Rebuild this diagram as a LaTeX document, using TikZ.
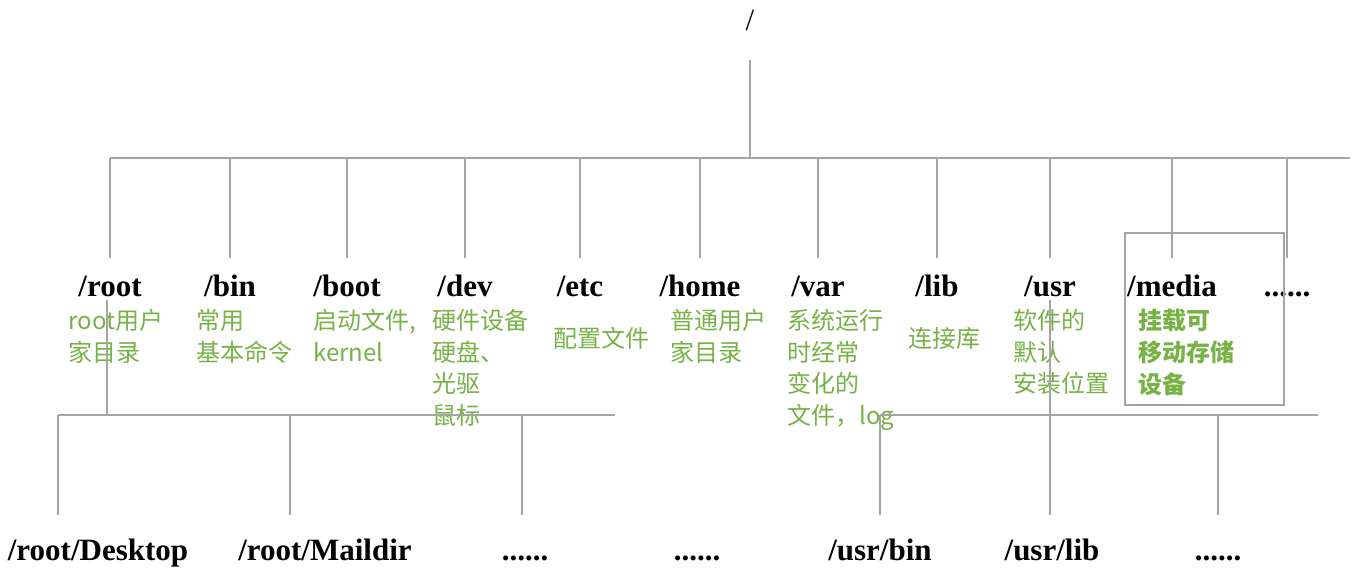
\documentclass[tikz,border=0pt]{standalone}
\usepackage{fontspec}
\setmainfont{Liberation Serif}
\newfontfamily\cjk{Noto Sans CJK SC}
\definecolor{leafgreen}{RGB}{118,178,70}
\definecolor{linegray}{RGB}{165,165,165}

\begin{document}
\begin{tikzpicture}[x=0.5pt, y=-0.5pt,
    dir/.style={font=\fontsize{15.5}{17}\selectfont\bfseries, inner sep=0pt, anchor=base},
    note/.style={font=\cjk\fontsize{12}{15.8}\selectfont, text=leafgreen, align=left, anchor=north west, inner sep=0pt},
    tree/.style={draw=linegray, line width=0.9pt}]

    \useasboundingbox (0,0) rectangle (1360,578);

    % root and first level
    \node[dir, font=\fontsize{15.5}{17}\selectfont] (Top) at (750,30) {/};
    \coordinate (TopJ) at (750,158);
    \draw[tree] (750,60) -- (TopJ);
    \draw[tree] (110,158) -- (1350,158);

    \foreach \name/\x/\txt in {Root/110/{/root}, Bin/230/{/bin}, Boot/347/{/boot}, Dev/465/{/dev},
        Etc/580/{/etc}, Home/700/{/home}, Var/818/{/var}, Lib/937/{/lib}, Usr/1050/{/usr},
        Media/1172/{/media}, More/1287/{......}} {
        \node[dir] (\name) at (\x,296) {\txt};
        \draw[tree] (\x,158) -- (\x,258);
    }

    % notes
    \node[note] (RootN)  at (68,309)  {root用户\\家目录};
    \node[note] (BinN)   at (196,309) {常用\\基本命令};
    \node[note] (BootN)  at (313,309) {启动文件,\\kernel};
    \node[note] (DevN)   at (432,309) {硬件设备\\硬盘、\\光驱\\鼠标};
    \node[note] (EtcN)   at (553,327) {配置文件};
    \node[note] (HomeN)  at (670,309) {普通用户\\家目录};
    \node[note] (VarN)   at (787,309) {系统运行\\时经常\\变化的\\文件，log};
    \node[note] (LibN)   at (908,327) {连接库};
    \node[note] (UsrN)   at (1013,309) {软件的\\默认\\安装位置};
    \node[note, font=\cjk\bfseries\fontsize{12}{15.8}\selectfont] (MediaN) at (1138,309) {挂载可\\移动存储\\设备};
    \draw[linegray, line width=0.9pt] (1125,233) rectangle (1284,405);

    % /root subtree
    \coordinate (RootJ) at (107,415);
    \draw[tree] (107,300) -- (RootJ);
    \draw[tree] (58,415) -- (615,415);
    \foreach \name/\x/\txt in {Desk/98/{/root/Desktop}, Mail/325/{/root/Maildir}, RDots/525/{......}} {
        \node[dir] (\name) at (\x,560) {\txt};
    }
    \draw[tree] (58,415) -- (58,515);
    \draw[tree] (290,415) -- (290,515);
    \draw[tree] (522,415) -- (522,515);
    \node[dir] (MDots) at (697,560) {......};

    % /usr subtree
    \draw[tree] (1050,300) -- (1050,515);
    \draw[tree] (880,415) -- (1318,415);
    \foreach \name/\x/\txt in {UBin/880/{/usr/bin}, ULib/1052/{/usr/lib}, UDots/1218/{......}} {
        \node[dir] (\name) at (\x,560) {\txt};
    }
    \draw[tree] (880,415) -- (880,515);
    \draw[tree] (1218,415) -- (1218,515);

\end{tikzpicture}
\end{document}
